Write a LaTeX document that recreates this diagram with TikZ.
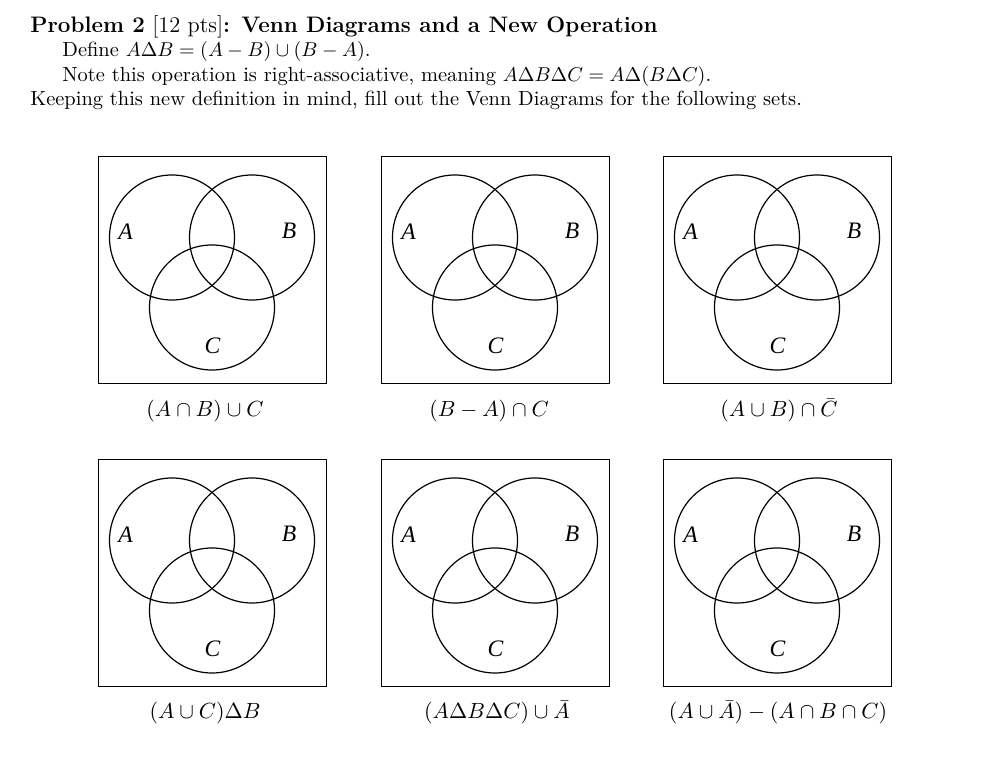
\documentclass[tikz,border=0pt]{standalone}
\usepackage{fontspec}
\newfontfamily\vennfont{Liberation Serif}
\begin{document}
\begin{tikzpicture}[x=0.5pt,y=-0.5pt,
  frame/.style={draw,line width=0.65pt},
  setcircle/.style={draw,line width=0.6pt},
  setlabel/.style={font=\vennfont\itshape\fontsize{11.8}{13}\selectfont,inner sep=0pt},
  caption/.style={anchor=base,inner sep=0pt,font=\fontsize{11}{13}\selectfont},
  hdr/.style={anchor=base west,inner sep=0pt,font=\fontsize{10.23}{12}\selectfont}]
\useasboundingbox (0,0) rectangle (981,774);
% header
\node[hdr] (title) at (30,33) {\fontsize{11.2}{13}\selectfont\textbf{Problem 2} [12 pts]\textbf{: Venn Diagrams and a New Operation}};
\node[hdr] (def) at (62,57) {Define $A\Delta B=(A-B)\cup(B-A)$.};
\node[hdr] (note) at (62,82) {Note this operation is right-associative, meaning $A\Delta B\Delta C=A\Delta(B\Delta C)$.};
\node[hdr] (keep) at (30,106) {Keeping this new definition in mind, fill out the Venn Diagrams for the following sets.};
% diagrams
\foreach \lx/\ty/\n in {98/156/1,381/156/2,663/156/3,98/459/4,381/459/5,663/459/6}{
  \node[frame,minimum width=114pt,minimum height=113.5pt,anchor=north west,inner sep=0pt] (box\n) at (\lx,\ty) {};
  \node[setcircle,circle,minimum size=62.5pt,inner sep=0pt] (cA\n) at (\lx+74,\ty+81.5) {};
  \node[setcircle,circle,minimum size=62.5pt,inner sep=0pt] (cB\n) at (\lx+154,\ty+81.5) {};
  \node[setcircle,circle,minimum size=62.5pt,inner sep=0pt] (cC\n) at (\lx+114,\ty+151.5) {};
  \node[setlabel] (lA\n) at (\lx+27.5,\ty+76) {A};
  \node[setlabel] (lB\n) at (\lx+191,\ty+75) {B};
  \node[setlabel] (lC\n) at (\lx+114.5,\ty+189.5) {C};
}
% captions
\node[caption] (cap1) at (205,417) {$(A\cap B)\cup C$};
\node[caption] (cap2) at (489,417) {$(B-A)\cap C$};
\node[caption] (cap3) at (779,417) {$(A\cup B)\cap\bar{C}$};
\node[caption] (cap4) at (205,719) {$(A\cup C)\Delta B$};
\node[caption] (cap5) at (497,719) {$(A\Delta B\Delta C)\cup\bar{A}$};
\node[caption] (cap6) at (778,719) {$(A\cup\bar{A})-(A\cap B\cap C)$};
\end{tikzpicture}
\end{document}
